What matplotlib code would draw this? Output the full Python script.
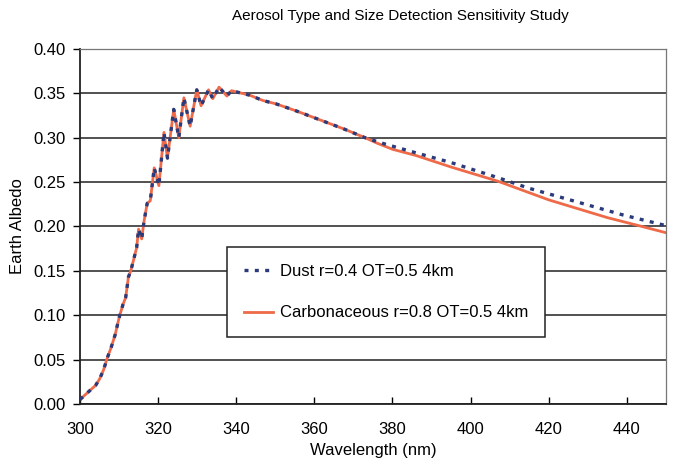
"""Aerosol type / size sensitivity: earth albedo vs wavelength."""
import matplotlib
matplotlib.use("Agg")
import matplotlib.pyplot as plt

plt.rcParams["font.family"] = ["Liberation Sans", "DejaVu Sans"]

# 300-373 nm: both cases overlap (Ring-effect wiggles)
wl_shared = [300, 301, 302, 303, 304, 305, 306, 307, 308, 309, 310, 311, 311.7,
             312.4, 313, 313.7, 314.5, 315, 315.8, 316.4, 317.2, 318, 319, 320.2,
             321.5, 322.4, 324, 325.3, 326.6, 328.2, 329.9, 331, 332.9, 334, 335.6,
             337.6, 338.8, 340.6, 343.4, 346.8, 350.3, 355.5, 361.5, 367.5, 373]
albedo_shared = [0.005, 0.009, 0.013, 0.017, 0.021, 0.028, 0.038, 0.052, 0.064,
                 0.078, 0.097, 0.112, 0.120, 0.143, 0.150, 0.162, 0.176, 0.197,
                 0.186, 0.206, 0.226, 0.229, 0.266, 0.246, 0.306, 0.277, 0.332,
                 0.300, 0.345, 0.313, 0.354, 0.336, 0.354, 0.344, 0.357, 0.347,
                 0.353, 0.351, 0.348, 0.342, 0.338, 0.330, 0.320, 0.310, 0.300]

# beyond 373 nm the two curves separate
dust_wl_tail = [378, 386, 395, 407, 415, 427, 439, 450]
dust_albedo_tail = [0.293, 0.283, 0.272, 0.255, 0.243, 0.228, 0.213, 0.201]
carb_wl_tail = [376, 380, 386, 395, 407, 420, 435, 443, 450]
carb_albedo_tail = [0.294, 0.287, 0.280, 0.267, 0.251, 0.230, 0.210, 0.201, 0.193]

dust_label = "Dust r=0.4 OT=0.5 4km"
carb_label = "Carbonaceous r=0.8 OT=0.5 4km"

x_ticks = [300, 320, 340, 360, 380, 400, 420, 440]
y_ticks = [0.00, 0.05, 0.10, 0.15, 0.20, 0.25, 0.30, 0.35, 0.40]

fig = plt.figure(figsize=(6.75, 4.71), dpi=100)
ax = fig.add_axes([0.1185, 0.1423, 0.868, 0.7537])

carb_line, = ax.plot(wl_shared + carb_wl_tail, albedo_shared + carb_albedo_tail,
                     color="#ee6a48", lw=2.0, label=carb_label, zorder=2)
dust_line, = ax.plot(wl_shared + dust_wl_tail, albedo_shared + dust_albedo_tail,
                     color="#2b3a7a", lw=2.4, ls=(0, (1.2, 1.9)), label=dust_label,
                     zorder=3)

ax.set_xlim(300, 450)
ax.set_ylim(0, 0.40)
ax.set_xticks(x_ticks)
ax.set_yticks(y_ticks)
ax.set_yticklabels([f"{v:.2f}" for v in y_ticks])
ax.tick_params(axis="x", direction="in", length=5, labelsize=12, pad=13, width=1)
ax.tick_params(axis="y", direction="out", length=5, labelsize=12, pad=5, width=1)
ax.yaxis.grid(True, color="#333333", lw=1.2)
ax.set_axisbelow(True)

for side in ("left", "bottom"):
    ax.spines[side].set_color("#222222")
    ax.spines[side].set_linewidth(1.3)
for side in ("top", "right"):
    ax.spines[side].set_color("#777777")
    ax.spines[side].set_linewidth(0.9)

ax.set_title("Aerosol Type and Size Detection Sensitivity Study", fontsize=11,
             pad=21, x=0.546)
ax.set_xlabel("Wavelength (nm)", fontsize=12, labelpad=4)
ax.set_ylabel("Earth Albedo", fontsize=12, labelpad=6)

leg = ax.legend([dust_line, carb_line], [dust_label, carb_label], loc="center",
                bbox_to_anchor=(0.522, 0.315), fontsize=12, frameon=True,
                fancybox=False, edgecolor="#222222", framealpha=1,
                borderpad=1.0, labelspacing=1.6, handlelength=1.75,
                handletextpad=0.4)
leg.get_frame().set_linewidth(1.1)

fig.savefig("out.png", dpi=100)
